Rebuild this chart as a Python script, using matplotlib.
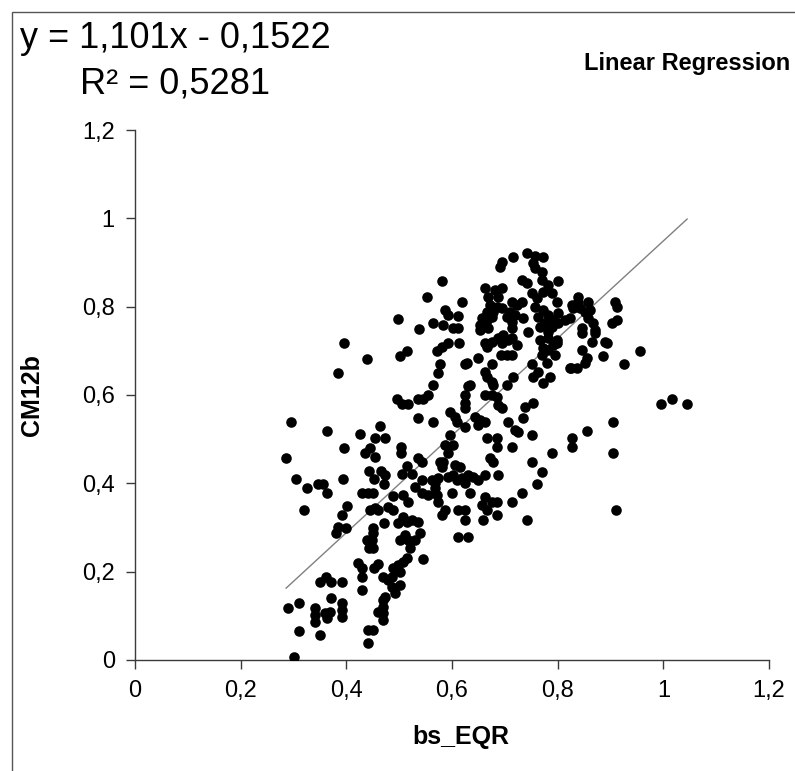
import matplotlib
matplotlib.use("Agg")
import matplotlib.pyplot as plt
from matplotlib.patches import Rectangle

plt.rcParams['font.family'] = ['Liberation Sans', 'DejaVu Sans']

# scatter values (bs_EQR, CM12b)
x_low = [0.286, 0.396, 0.305, 0.326, 0.346, 0.356, 0.363, 0.394, 0.320, 0.401,
         0.392, 0.384, 0.399, 0.380, 0.350, 0.362, 0.371, 0.392, 0.290, 0.310,
         0.341, 0.341, 0.341, 0.360, 0.369, 0.371, 0.392, 0.392, 0.392, 0.363,
         0.310, 0.350, 0.301, 0.441, 0.450, 0.441, 0.430, 0.422, 0.430, 0.430,
         0.452, 0.460, 0.439, 0.449, 0.443, 0.450, 0.450, 0.450, 0.430, 0.441,
         0.450, 0.445, 0.454, 0.460, 0.443, 0.452, 0.466, 0.473, 0.471, 0.435,
         0.445, 0.454, 0.503, 0.503, 0.505, 0.515, 0.524, 0.536, 0.543, 0.488,
         0.479, 0.488, 0.507, 0.517, 0.530, 0.543, 0.543, 0.471, 0.498, 0.507,
         0.515, 0.524, 0.536, 0.502, 0.511, 0.517, 0.521, 0.530, 0.539, 0.545,
         0.488, 0.498, 0.507, 0.515, 0.502, 0.469, 0.479, 0.486, 0.492, 0.502,
         0.486, 0.469, 0.469, 0.469, 0.469, 0.460, 0.473]
y_low = [0.457, 0.480, 0.410, 0.389, 0.398, 0.398, 0.378, 0.410, 0.340, 0.349,
         0.328, 0.301, 0.299, 0.288, 0.177, 0.188, 0.177, 0.177, 0.118, 0.129,
         0.118, 0.102, 0.086, 0.106, 0.109, 0.140, 0.129, 0.113, 0.097, 0.095,
         0.066, 0.057, 0.007, 0.068, 0.068, 0.038, 0.158, 0.220, 0.208, 0.188,
         0.208, 0.217, 0.272, 0.272, 0.254, 0.254, 0.299, 0.288, 0.378, 0.378,
         0.378, 0.340, 0.344, 0.340, 0.428, 0.410, 0.428, 0.419, 0.398, 0.469,
         0.480, 0.460, 0.482, 0.469, 0.421, 0.439, 0.421, 0.457, 0.448, 0.371,
         0.346, 0.340, 0.374, 0.358, 0.392, 0.408, 0.378, 0.310, 0.310, 0.324,
         0.312, 0.317, 0.312, 0.272, 0.283, 0.272, 0.254, 0.272, 0.288, 0.229,
         0.208, 0.215, 0.222, 0.231, 0.199, 0.188, 0.181, 0.165, 0.152, 0.170,
         0.188, 0.136, 0.120, 0.106, 0.091, 0.109, 0.143]

x_mid_low = [0.587, 0.602, 0.592, 0.577, 0.583, 0.581, 0.606, 0.615, 0.562, 0.568,
             0.574, 0.568, 0.555, 0.572, 0.574, 0.592, 0.602, 0.609, 0.619, 0.625,
             0.630, 0.640, 0.649, 0.662, 0.600, 0.634, 0.587, 0.581, 0.611, 0.625,
             0.625, 0.657, 0.666, 0.659, 0.685, 0.662, 0.676, 0.685, 0.672, 0.678,
             0.687, 0.685, 0.714, 0.714, 0.733, 0.742, 0.751, 0.770, 0.761, 0.789,
             0.827, 0.611, 0.630]
y_mid_low = [0.487, 0.487, 0.469, 0.448, 0.448, 0.437, 0.441, 0.437, 0.408, 0.401,
             0.412, 0.389, 0.374, 0.374, 0.358, 0.414, 0.419, 0.408, 0.412, 0.401,
             0.419, 0.414, 0.408, 0.419, 0.378, 0.378, 0.340, 0.328, 0.340, 0.340,
             0.317, 0.351, 0.340, 0.317, 0.328, 0.369, 0.358, 0.358, 0.457, 0.448,
             0.419, 0.482, 0.482, 0.358, 0.378, 0.317, 0.448, 0.426, 0.398, 0.469,
             0.482, 0.278, 0.278]

x_right = [0.905, 0.910, 0.905, 0.856, 0.827, 0.996, 1.016, 1.045, 0.956, 0.926]
y_right = [0.469, 0.340, 0.539, 0.518, 0.503, 0.580, 0.591, 0.580, 0.700, 0.670]

x_upper_left = [0.552, 0.498, 0.538, 0.396, 0.515, 0.502, 0.439, 0.384, 0.496, 0.505,
                0.517, 0.536, 0.545, 0.536, 0.295, 0.363, 0.426, 0.464, 0.454, 0.473,
                0.572, 0.581, 0.592, 0.613, 0.628, 0.630]
y_upper_left = [0.822, 0.772, 0.749, 0.718, 0.700, 0.688, 0.681, 0.650, 0.591, 0.580,
                0.580, 0.591, 0.591, 0.548, 0.539, 0.518, 0.512, 0.530, 0.503, 0.503,
                0.700, 0.709, 0.718, 0.718, 0.672, 0.620]

x_cluster = [0.581, 0.695, 0.691, 0.715, 0.742, 0.757, 0.772, 0.753, 0.757, 0.770,
             0.733, 0.742, 0.770, 0.782, 0.801, 0.662, 0.681, 0.695, 0.668, 0.687,
             0.619, 0.587, 0.592, 0.611, 0.564, 0.583, 0.602, 0.611, 0.672, 0.685,
             0.666, 0.678, 0.695, 0.714, 0.723, 0.733, 0.657, 0.666, 0.676, 0.704,
             0.710, 0.719, 0.653, 0.653, 0.668, 0.714, 0.714, 0.734, 0.744, 0.662,
             0.676, 0.687, 0.697, 0.695, 0.706, 0.714, 0.723, 0.666, 0.693, 0.704,
             0.714, 0.751, 0.761, 0.772, 0.789, 0.799, 0.757, 0.763, 0.772, 0.782,
             0.791, 0.801, 0.767, 0.776, 0.782, 0.789, 0.801, 0.814, 0.823, 0.767,
             0.772, 0.770, 0.782, 0.791, 0.795, 0.799, 0.782, 0.780, 0.799, 0.827,
             0.829, 0.649, 0.625, 0.676, 0.577, 0.574, 0.662, 0.666, 0.676, 0.678,
             0.715, 0.704, 0.751, 0.763, 0.753, 0.772, 0.786, 0.825, 0.564, 0.555,
             0.634, 0.625, 0.625, 0.625, 0.662, 0.676, 0.685, 0.687, 0.695, 0.738,
             0.753, 0.734, 0.706, 0.719, 0.751, 0.596, 0.606, 0.609, 0.644, 0.653,
             0.662, 0.649, 0.564, 0.596, 0.625, 0.666, 0.685, 0.725]
y_cluster = [0.858, 0.901, 0.890, 0.912, 0.921, 0.915, 0.912, 0.899, 0.887, 0.878,
             0.860, 0.854, 0.860, 0.849, 0.858, 0.842, 0.838, 0.842, 0.822, 0.822,
             0.810, 0.792, 0.781, 0.779, 0.763, 0.758, 0.752, 0.752, 0.804, 0.799,
             0.788, 0.788, 0.797, 0.810, 0.804, 0.810, 0.774, 0.770, 0.777, 0.777,
             0.788, 0.781, 0.758, 0.747, 0.752, 0.765, 0.752, 0.774, 0.743, 0.718,
             0.720, 0.729, 0.736, 0.718, 0.724, 0.729, 0.713, 0.709, 0.691, 0.691,
             0.691, 0.831, 0.820, 0.833, 0.831, 0.810, 0.799, 0.777, 0.792, 0.781,
             0.770, 0.786, 0.754, 0.763, 0.743, 0.754, 0.763, 0.770, 0.774, 0.724,
             0.706, 0.691, 0.702, 0.713, 0.691, 0.724, 0.729, 0.672, 0.718, 0.804,
             0.797, 0.684, 0.670, 0.670, 0.670, 0.650, 0.652, 0.641, 0.629, 0.623,
             0.641, 0.623, 0.670, 0.652, 0.641, 0.627, 0.641, 0.661, 0.623, 0.600,
             0.623, 0.600, 0.582, 0.571, 0.600, 0.600, 0.595, 0.577, 0.571, 0.573,
             0.582, 0.548, 0.539, 0.521, 0.509, 0.561, 0.550, 0.539, 0.550, 0.543,
             0.539, 0.532, 0.539, 0.509, 0.528, 0.503, 0.503, 0.516]

x_upper_right = [0.839, 0.839, 0.842, 0.857, 0.852, 0.861, 0.909, 0.912, 0.912, 0.903,
                 0.857, 0.867, 0.871, 0.846, 0.846, 0.871, 0.865, 0.890, 0.893, 0.846,
                 0.856, 0.852, 0.837, 0.886, 0.823]
y_upper_right = [0.822, 0.810, 0.797, 0.810, 0.788, 0.792, 0.810, 0.799, 0.770, 0.763,
                 0.774, 0.763, 0.747, 0.752, 0.740, 0.740, 0.720, 0.720, 0.718, 0.702,
                 0.684, 0.672, 0.661, 0.688, 0.661]

# trendline as printed on the chart
slope = 1.101
intercept = -0.1522
r_squared = 0.5281

ticks = [0, 0.2, 0.4, 0.6, 0.8, 1, 1.2]
tick_labels = ['0', '0,2', '0,4', '0,6', '0,8', '1', '1,2']

bs_eqr = x_low + x_mid_low + x_right + x_upper_left + x_cluster + x_upper_right
cm12b = y_low + y_mid_low + y_right + y_upper_left + y_cluster + y_upper_right

W, H = 795, 771
fig = plt.figure(figsize=(W / 100, H / 100), dpi=100)
fig.patch.set_facecolor('white')

# axes box in pixel terms: x 135..769, y 130..660 (from top)
ax = fig.add_axes([135 / W, 1 - 660 / H, (769 - 135) / W, (660 - 130) / H])
ax.scatter(bs_eqr, cm12b, s=58, color='black', linewidths=0, zorder=3)

x0, x1 = min(bs_eqr), max(bs_eqr)
ax.plot([x0, x1], [slope * x0 + intercept, slope * x1 + intercept],
        color='#808080', lw=1.0, zorder=2)

ax.set_xlim(0, 1.2)
ax.set_ylim(0, 1.2)
ax.set_xticks(ticks)
ax.set_yticks(ticks)
ax.set_xticklabels(tick_labels)
ax.set_yticklabels(tick_labels)
for s in ['top', 'right']:
    ax.spines[s].set_visible(False)
for s in ['left', 'bottom']:
    ax.spines[s].set_color('#3a3a3a')
    ax.spines[s].set_linewidth(1.0)
ax.tick_params(direction='out', length=6.5, width=1.0, color='#3a3a3a',
               labelsize=17, labelcolor='black')
ax.tick_params(axis='x', pad=8)
ax.tick_params(axis='y', pad=8)

# labels and annotations
fig.text(461 / W, 1 - 737 / H, 'bs_EQR', ha='center', va='center',
         fontsize=18, fontweight='bold')
fig.text(32 / W, 1 - 395 / H, 'CM12b', ha='center', va='center',
         rotation=90, fontsize=18, fontweight='bold')
fig.text(175 / W, 1 - 48 / H, 'y = 1,101x - 0,1522', ha='center',
         va='baseline', fontsize=26)
fig.text(175 / W, 1 - 93 / H, 'R² = 0,5281', ha='center',
         va='baseline', fontsize=26)
fig.text(790 / W, 1 - 70 / H, 'Linear Regression', ha='right',
         va='baseline', fontsize=17, fontweight='bold')

# chart area border (only left and top edges fall inside the image)
fig.patches.append(Rectangle((12 / W, -0.1), 1.2, (1 - 12 / H) + 0.1,
                             transform=fig.transFigure, fill=False,
                             edgecolor='#555555', lw=1.0))

fig.savefig('out.png', dpi=100)
